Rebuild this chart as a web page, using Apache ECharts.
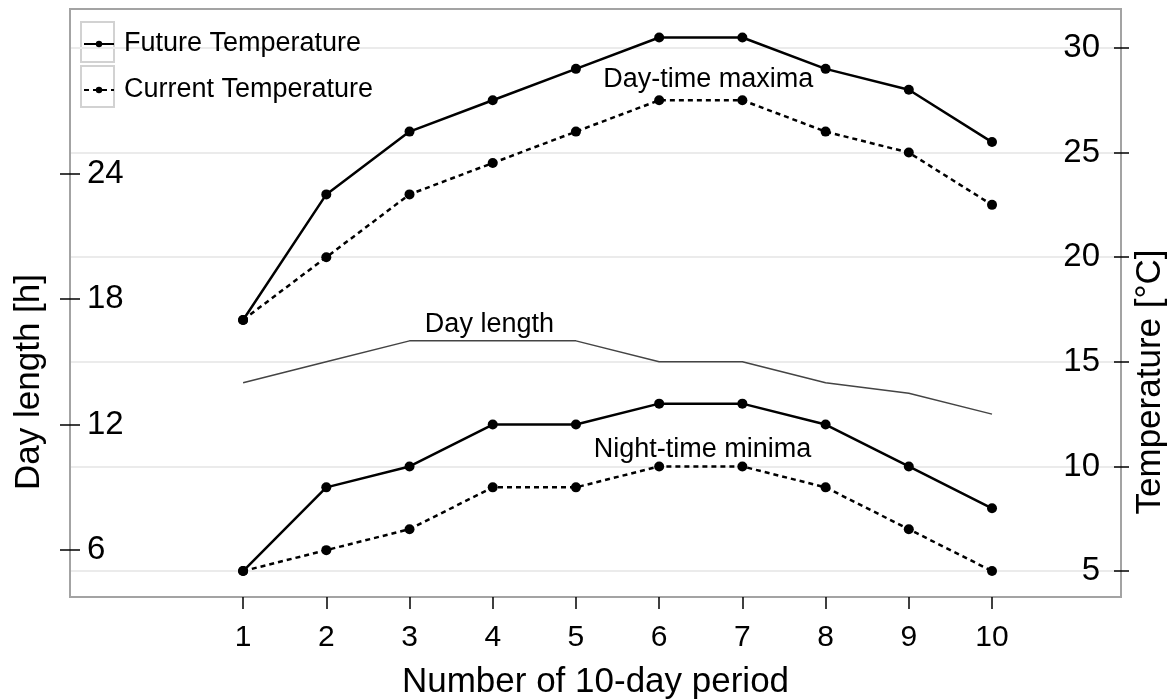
<!DOCTYPE html>
<html>
<head>
<meta charset="utf-8">
<script src="https://cdn.jsdelivr.net/npm/echarts@6/dist/echarts.min.js"></script>
<style>
  html, body { margin: 0; padding: 0; background: #fff; }
  #chart { width: 1175px; height: 699px; }
</style>
</head>
<body>
<div id="chart"></div>
<script>
// 10-day periods and temperatures (°C) / day length (h)
const periods = [1, 2, 3, 4, 5, 6, 7, 8, 9, 10];
const futureMax = [17, 23, 26, 27.5, 29, 30.5, 30.5, 29, 28, 25.5];
const currentMax = [17, 20, 23, 24.5, 26, 27.5, 27.5, 26, 25, 22.5];
const futureMin = [5, 9, 10, 12, 12, 13, 13, 12, 10, 8];
const currentMin = [5, 6, 7, 9, 9, 10, 10, 9, 7, 5];
const dayLength = [14, 15, 16, 16, 16, 15, 15, 14, 13.5, 12.5];
const dayLengthTicks = [6, 12, 18, 24];
const temperatureTicks = [5, 10, 15, 20, 25, 30];

const FONT = "'Liberation Sans', Arial, sans-serif";
const FRAME = '#a3a3a3';
const GRID_LINE = '#ebebeb';

const toPairs = (vals) => periods.map((p, i) => [p, vals[i]]);

// both vertical axes share one scale (hours and °C)
const Y_MIN = 3.76, Y_MAX = 31.86;

const chart = echarts.init(document.getElementById('chart'));

const solidLine = { color: '#000', width: 2.5 };
const dashedLine = { color: '#000', width: 2.5, type: [5, 4] };
const dot = { color: '#000' };

function note(text, coord) {
  return {
    silent: true,
    symbol: 'circle',
    symbolSize: 0,
    label: {
      show: true,
      position: 'inside',
      formatter: '{b}',
      color: '#000',
      fontSize: 27,
      fontFamily: FONT
    },
    data: [{ name: text, coord: coord }]
  };
}

function tickAxis(position, ticks, len) {
  // inner half of the ticks that cross the frame
  return {
    type: 'value', position: position,
    min: Y_MIN, max: Y_MAX,
    axisLine: { show: false, onZero: false },
    axisTick: { show: true, inside: true, customValues: ticks, length: len, lineStyle: { color: '#000', width: 1.5 } },
    axisLabel: { show: false },
    splitLine: { show: false }
  };
}

chart.setOption({
  animation: false,
  textStyle: { fontFamily: FONT, color: '#000' },
  grid: {
    left: 70, right: 54, top: 9, bottom: 102,
    outerBoundsMode: 'none',
    containLabel: false,
    show: true, borderColor: FRAME, borderWidth: 2
  },
  legend: {
    data: ['Future Temperature', 'Current Temperature'],
    orient: 'vertical',
    left: 83, top: 29, padding: 0,
    itemWidth: 30, itemHeight: 8, itemGap: 16,
    selectedMode: false,
    textStyle: { fontSize: 27, lineHeight: 30, color: '#000', fontFamily: FONT, padding: [0, 0, 0, 5] }
  },
  xAxis: {
    type: 'value',
    min: -1.08, max: 11.55,
    axisLine: { show: true, onZero: false, lineStyle: { color: FRAME, width: 2 } },
    axisTick: { show: true, customValues: periods, length: 12, lineStyle: { color: '#000', width: 1.5 } },
    axisLabel: { customValues: periods, fontSize: 30, margin: 26, color: '#000', fontFamily: FONT },
    splitLine: { show: false },
    name: 'Number of 10-day period',
    nameLocation: 'middle',
    nameGap: 68,
    nameTextStyle: { fontSize: 35, color: '#000', fontFamily: FONT }
  },
  yAxis: [
    {
      type: 'value', position: 'left',
      min: Y_MIN, max: Y_MAX,
      axisLine: { show: true, onZero: false, lineStyle: { color: FRAME, width: 2 } },
      axisTick: { show: true, customValues: dayLengthTicks, length: 10, lineStyle: { color: '#000', width: 1.5 } },
      axisLabel: { customValues: dayLengthTicks, inside: true, margin: 17, fontSize: 33, color: '#000', fontFamily: FONT },
      splitLine: { show: false }
    },
    {
      type: 'value', position: 'right',
      min: Y_MIN, max: Y_MAX,
      axisLine: { show: true, onZero: false, lineStyle: { color: FRAME, width: 2 } },
      axisTick: { show: true, customValues: temperatureTicks, length: 8, lineStyle: { color: '#000', width: 1.5 } },
      axisLabel: { customValues: temperatureTicks, inside: true, margin: 21, fontSize: 33, color: '#000', fontFamily: FONT },
      splitLine: { show: true, lineStyle: { color: GRID_LINE, width: 2 } }
    },
    tickAxis('left', dayLengthTicks, 10),
    tickAxis('right', temperatureTicks, 7)
  ],
  graphic: [
    { type: 'rect', shape: { x: 81, y: 22, width: 33, height: 40 }, style: { fill: 'none', stroke: '#d2d2d2', lineWidth: 2 }, z: 0, silent: true },
    { type: 'rect', shape: { x: 81, y: 66, width: 33, height: 41 }, style: { fill: 'none', stroke: '#d2d2d2', lineWidth: 2 }, z: 0, silent: true },
    {
      type: 'text', x: 29, y: 382, rotation: Math.PI / 2, silent: true,
      style: { text: 'Day length [h]', fontSize: 35, fontFamily: FONT, fill: '#000', align: 'center', verticalAlign: 'middle' }
    },
    {
      type: 'text', x: 1150, y: 382, rotation: Math.PI / 2, silent: true,
      style: { text: 'Temperature [°C]', fontSize: 35, fontFamily: FONT, fill: '#000', align: 'center', verticalAlign: 'middle' }
    }
  ],
  series: [
    {
      name: 'Day length', type: 'line', yAxisIndex: 0,
      data: toPairs(dayLength),
      symbol: 'none',
      lineStyle: { color: '#444', width: 1.5 },
      markPoint: note('Day length', [3.96, 16.8])
    },
    {
      name: 'Future Temperature', type: 'line', yAxisIndex: 1,
      data: toPairs(futureMax),
      symbol: 'circle', symbolSize: 10,
      lineStyle: solidLine, itemStyle: dot,
      markPoint: note('Day-time maxima', [6.59, 28.5])
    },
    {
      name: 'Current Temperature', type: 'line', yAxisIndex: 1,
      data: toPairs(currentMax),
      symbol: 'circle', symbolSize: 10,
      lineStyle: dashedLine, itemStyle: dot
    },
    {
      name: 'Future Temperature', type: 'line', yAxisIndex: 1,
      data: toPairs(futureMin),
      symbol: 'circle', symbolSize: 10,
      lineStyle: solidLine, itemStyle: dot,
      markPoint: note('Night-time minima', [6.52, 10.8])
    },
    {
      name: 'Current Temperature', type: 'line', yAxisIndex: 1,
      data: toPairs(currentMin),
      symbol: 'circle', symbolSize: 10,
      lineStyle: dashedLine, itemStyle: dot
    }
  ]
});
</script>
</body>
</html>
